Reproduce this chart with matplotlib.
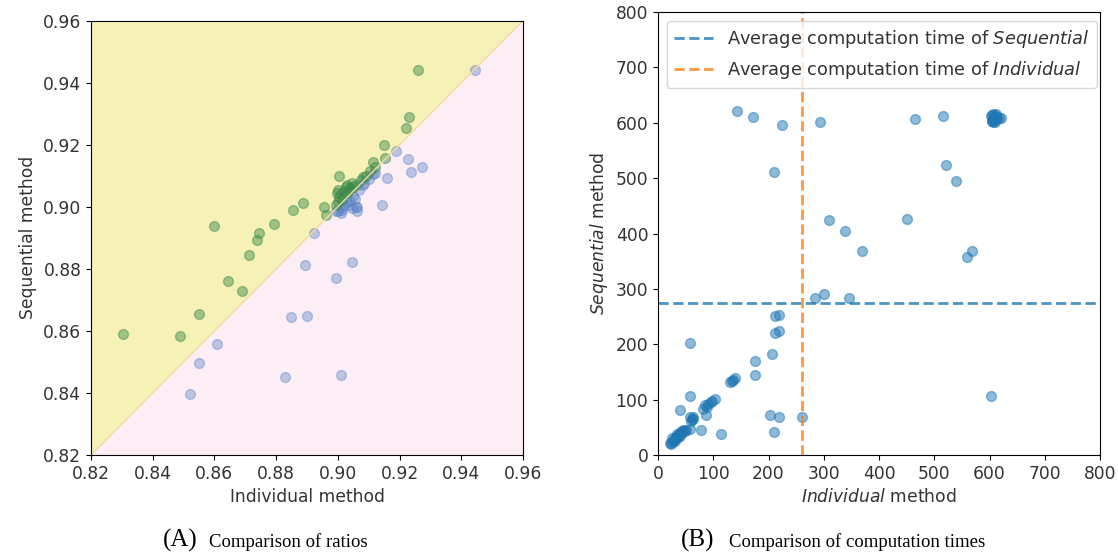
import numpy as np
import matplotlib
matplotlib.use('Agg')
import matplotlib.pyplot as plt

# (A) ratios: points where Sequential beats Individual (green) and the rest (blue)
green_x = [0.8304, 0.8488, 0.855, 0.8599, 0.8644, 0.8689, 0.8712, 0.8738, 0.8744, 0.8793,
           0.8855, 0.8887, 0.8955, 0.8962, 0.9004, 0.9114, 0.9153, 0.915, 0.9221, 0.923, 0.926,
           0.8995, 0.9, 0.9005, 0.901, 0.9015, 0.902, 0.903, 0.904, 0.905, 0.906, 0.9075,
           0.909, 0.9105, 0.912, 0.8998, 0.9, 0.903, 0.9035, 0.9045, 0.9025, 0.908]
green_y = [0.8591, 0.8585, 0.8655, 0.8939, 0.8762, 0.873, 0.8845, 0.8894, 0.8916, 0.8945,
           0.899, 0.9013, 0.90, 0.8974, 0.91, 0.9144, 0.9157, 0.9199, 0.9254, 0.9289, 0.9441,
           0.9005, 0.9015, 0.903, 0.904, 0.9025, 0.905, 0.9045, 0.906, 0.9065, 0.907, 0.9085,
           0.910, 0.9115, 0.9128, 0.9045, 0.9055, 0.907, 0.9055, 0.9075, 0.9065, 0.9095]
blue_x = [0.9444, 0.9188, 0.9227, 0.9273, 0.9237, 0.9159, 0.9143, 0.9081, 0.9062, 0.9013,
          0.8923, 0.8893, 0.9046, 0.8994, 0.8848, 0.89, 0.8608, 0.855, 0.8521, 0.8829, 0.901,
          0.9, 0.901, 0.902, 0.903, 0.904, 0.905, 0.9055, 0.907, 0.9085, 0.91, 0.9115, 0.912,
          0.9035, 0.9045, 0.906, 0.8995, 0.9062, 0.901]
blue_y = [0.9441, 0.918, 0.9154, 0.9128, 0.9112, 0.9093, 0.9006, 0.907, 0.90, 0.899,
          0.8916, 0.8813, 0.8823, 0.8771, 0.8646, 0.8649, 0.8559, 0.8498, 0.8398, 0.8453, 0.8459,
          0.8985, 0.8995, 0.9005, 0.9015, 0.902, 0.9035, 0.9025, 0.9055, 0.9075, 0.909, 0.9105,
          0.911, 0.9005, 0.8995, 0.90, 0.8985, 0.8985, 0.898]

# (B) computation times (individual, sequential)
time_ind = [142, 171, 225, 294, 466, 516, 209, 521, 540, 310, 339, 451, 369, 559, 568,
            284, 300, 345, 212, 219, 212, 219, 58, 206, 175, 175, 133, 139, 136, 131,
            58, 602, 103, 85, 90, 95, 98, 88, 82, 39, 64, 62, 203, 219, 260, 209, 114, 77, 57,
            86, 60, 57, 63,
            22, 25, 27, 28, 30, 32, 33, 35, 36, 38, 40, 42, 44, 46, 30, 26, 34, 40, 45, 48, 24, 50, 37,
            604, 606, 608, 610, 612, 603, 607, 605, 609, 611, 614, 617, 604, 606, 610, 612, 620]
time_seq = [621, 610, 596, 602, 606, 612, 511, 524, 495, 424, 405, 426, 369, 357, 369,
            283, 290, 283, 251, 252, 221, 224, 202, 182, 170, 145, 134, 139, 136, 131,
            107, 107, 101, 90, 93, 95, 97, 87, 84, 82, 68, 65, 73, 69, 69, 41, 38, 45, 47,
            72, 62, 68, 65,
            22, 24, 26, 28, 30, 31, 33, 35, 34, 37, 40, 41, 43, 42, 25, 30, 38, 35, 45, 44, 20, 46, 32,
            604, 608, 611, 605, 610, 612, 615, 603, 607, 613, 609, 608, 614, 602, 602, 615, 608]
avg_seq = 274
avg_ind = 261

fig = plt.figure(figsize=(11.18, 5.52), dpi=100)
fs = 12.3
plt.rcParams['xtick.labelcolor'] = '#333333'
plt.rcParams['ytick.labelcolor'] = '#333333'

# ---- (A) ----
ax1 = fig.add_axes([0.0814, 0.1757, 0.3864, 0.787])
lo, hi = 0.82, 0.96
ax1.fill_between([lo, hi], [lo, hi], [hi, hi], color='#f6f1b6', lw=0)
ax1.fill_between([lo, hi], [lo, lo], [lo, hi], color='#fdeef6', lw=0)
ax1.plot([lo, hi], [lo, hi], color='#f3d9a0', lw=1)
ax1.scatter(blue_x, blue_y, s=50, color='#5b84c8', alpha=0.4)
ax1.scatter(green_x, green_y, s=50, color='#3a8a4a', alpha=0.45)
ax1.set_xlim(lo, hi)
ax1.set_ylim(lo, hi)
ticks = np.arange(0.82, 0.961, 0.02)
ax1.set_xticks(ticks)
ax1.set_yticks(ticks)
ax1.set_xticklabels(['%.2f' % t for t in ticks])
ax1.set_yticklabels(['%.2f' % t for t in ticks])
ax1.tick_params(labelsize=fs, labelcolor='#333333')
ax1.set_xlabel('Individual method', fontsize=fs, color='#333333')
ax1.set_ylabel('Sequential method', fontsize=fs, color='#333333')

# ---- (B) ----
ax2 = fig.add_axes([0.5886, 0.1757, 0.3953, 0.8025])
ax2.scatter(time_ind, time_seq, s=50, color='C0', alpha=0.5)
ax2.axhline(avg_seq, color='C0', ls='--', lw=2, alpha=0.8,
            label=r'Average computation time of $\it{Sequential}$')
ax2.axvline(avg_ind, color='C1', ls='--', lw=2, alpha=0.8,
            label=r'Average computation time of $\it{Individual}$')
ax2.set_xlim(0, 800)
ax2.set_ylim(0, 800)
ax2.set_xticks(range(0, 801, 100))
ax2.set_yticks(range(0, 801, 100))
ax2.tick_params(labelsize=fs, labelcolor='#333333')
ax2.set_xlabel(r'$\it{Individual}$ method', fontsize=fs, color='#333333')
ax2.set_ylabel(r'$\it{Sequential}$ method', fontsize=fs, color='#333333')
leg = ax2.legend(loc='upper left', fontsize=12.8, handlelength=2.2)
for t in leg.get_texts():
    t.set_color('#333333')

# captions
for tx, cx, tag, txt in [(0.1458, 0.187, '(A)', 'Comparison of ratios'),
                         (0.609, 0.652, '(B)', 'Comparison of computation times')]:
    fig.text(tx, 0.009, tag, fontsize=18, family='Liberation Serif', va='baseline')
    fig.text(cx, 0.009, txt, fontsize=13.5, family='Liberation Serif', va='baseline')

fig.savefig('out.png', dpi=100)
